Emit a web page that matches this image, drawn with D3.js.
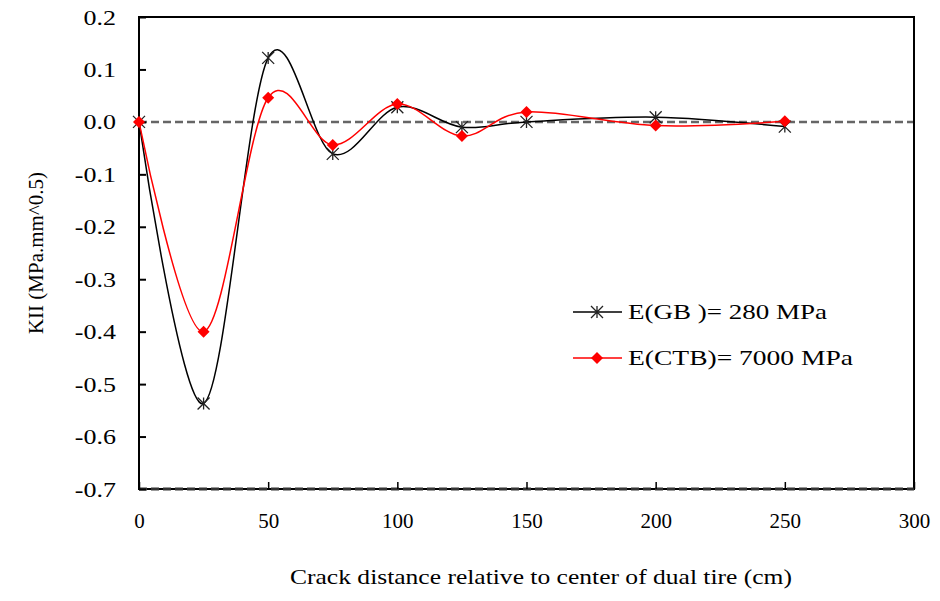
<!DOCTYPE html>
<html>
<head>
<meta charset="utf-8">
<script src="https://cdn.jsdelivr.net/npm/d3@7"></script>
<style>
  body { margin: 0; background: #fff; }
  text { font-family: "Liberation Serif", "Times New Roman", serif; fill: #000; }
</style>
</head>
<body>
<div id="chart"></div>
<script>
// crack positions (cm)
var distances = [0, 25, 50, 75, 100, 125, 150, 200, 250];
// KII values
var kiiGB = [0, -0.537, 0.122, -0.061, 0.028, -0.01, 0.0, 0.009, -0.009];
var kiiCTB = [0, -0.40, 0.046, -0.044, 0.034, -0.027, 0.019, -0.007, 0.001];
var seriesNames = ["E(GB )= 280 MPa", "E(CTB)= 7000 MPa"];
var xTicks = [0, 50, 100, 150, 200, 250, 300];
var yTicks = [0.2, 0.1, 0.0, -0.1, -0.2, -0.3, -0.4, -0.5, -0.6, -0.7];

var width = 940, height = 601;
var m = { left: 139, right: 914, top: 17, bottom: 489 };

var svg = d3.select("#chart").append("svg")
    .attr("width", width)
    .attr("height", height);

var x = d3.scaleLinear().domain([0, 300]).range([m.left, m.right]);
var y = d3.scaleLinear().domain([-0.7, 0.2]).range([m.bottom, m.top]);

// zero line
svg.append("line")
    .attr("x1", m.left).attr("x2", m.right)
    .attr("y1", y(0)).attr("y2", y(0))
    .attr("stroke", "#666")
    .attr("stroke-width", 2.5)
    .attr("stroke-dasharray", "8,4");

// frame
svg.append("rect")
    .attr("x", m.left).attr("y", m.top)
    .attr("width", m.right - m.left).attr("height", m.bottom - m.top)
    .attr("fill", "none")
    .attr("stroke", "#000")
    .attr("stroke-width", 2);

// bottom border has a dashed look in the original
svg.append("line")
    .attr("x1", m.left).attr("x2", m.right)
    .attr("y1", m.bottom).attr("y2", m.bottom)
    .attr("stroke", "#333")
    .attr("stroke-width", 3)
    .attr("stroke-dasharray", "8,4");

// axes with inward ticks
var yAxis = d3.axisLeft(y).tickValues(yTicks).tickSize(-7)
    .tickFormat(function(d) { return d.toFixed(1).replace("\u2212", "-"); });
svg.append("g")
    .attr("transform", "translate(" + m.left + ",0)")
    .call(yAxis)
    .call(function(g) {
      g.select(".domain").remove();
      g.selectAll(".tick line").attr("stroke", "#000").attr("stroke-width", 2);
      g.selectAll("text")
          .attr("x", null).attr("dy", null)
          .attr("transform", "translate(-23,7) scale(1.3,1)")
          .style("font-size", "20px");
    });

var xAxis = d3.axisBottom(x).tickValues(xTicks).tickSize(-7).tickPadding(24);
svg.append("g")
    .attr("transform", "translate(0," + m.bottom + ")")
    .call(xAxis)
    .call(function(g) {
      g.select(".domain").remove();
      g.selectAll(".tick line").attr("stroke", "#000").attr("stroke-width", 1.5);
      g.selectAll("text").style("font-size", "21px");
    });

// axis titles
svg.append("text")
    .attr("x", 290).attr("y", 584)
    .attr("textLength", 502)
    .attr("lengthAdjust", "spacingAndGlyphs")
    .style("font-size", "21px")
    .text("Crack distance relative  to center of dual tire (cm)");

svg.append("text")
    .attr("transform", "translate(43,253) rotate(-90)")
    .attr("text-anchor", "middle")
    .style("font-size", "21px")
    .text("KII (MPa.mm^0.5)");

var line = d3.line()
    .x(function(d) { return x(d[0]); })
    .y(function(d) { return y(d[1]); })
    .curve(d3.curveCardinal.tension(0));

var gbData = distances.map(function(d, i) { return [d, kiiGB[i]]; });
var ctbData = distances.map(function(d, i) { return [d, kiiCTB[i]]; });

function star(g, cx, cy, r) {
  g.append("path")
    .attr("d", "M" + (cx - r) + "," + (cy - r) + "L" + (cx + r) + "," + (cy + r) +
      "M" + (cx - r) + "," + (cy + r) + "L" + (cx + r) + "," + (cy - r) +
      "M" + cx + "," + (cy - r) + "L" + cx + "," + (cy + r))
    .attr("stroke", "#222")
    .attr("stroke-width", 1.3)
    .attr("fill", "none");
}

function diamond(g, cx, cy, r) {
  g.append("path")
    .attr("d", "M" + cx + "," + (cy - r) + "L" + (cx + r) + "," + cy +
      "L" + cx + "," + (cy + r) + "L" + (cx - r) + "," + cy + "Z")
    .attr("fill", "#f00");
}

svg.append("path")
    .datum(gbData)
    .attr("d", line)
    .attr("fill", "none")
    .attr("stroke", "#000")
    .attr("stroke-width", 1.5);

svg.append("path")
    .datum(ctbData)
    .attr("d", line)
    .attr("fill", "none")
    .attr("stroke", "#f00")
    .attr("stroke-width", 1.5);

var gbMarks = svg.append("g");
gbData.forEach(function(d) { star(gbMarks, x(d[0]), y(d[1]), 6); });
var ctbMarks = svg.append("g");
ctbData.forEach(function(d) { diamond(ctbMarks, x(d[0]), y(d[1]), 6); });

// legend
var legend = svg.append("g");
var legY = [312, 358];
var legW = [199, 225];
var colors = ["#000", "#f00"];
legY.forEach(function(ly, i) {
  legend.append("line")
    .attr("x1", 573).attr("x2", 622)
    .attr("y1", ly).attr("y2", ly)
    .attr("stroke", colors[i])
    .attr("stroke-width", 1.5);
  if (i === 0) star(legend, 597, ly, 6);
  else diamond(legend, 597, ly, 6);
  legend.append("text")
    .attr("x", 628).attr("y", ly + 7)
    .attr("textLength", legW[i])
    .attr("lengthAdjust", "spacingAndGlyphs")
    .style("font-size", "21px")
    .text(seriesNames[i]);
});
</script>
</body>
</html>
